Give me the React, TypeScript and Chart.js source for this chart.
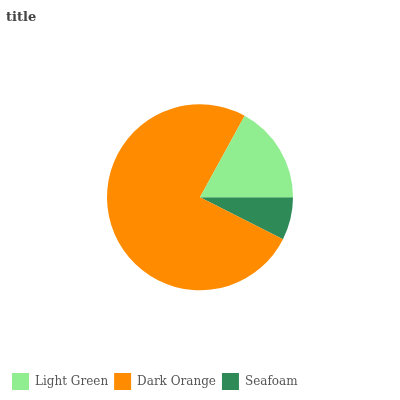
import React, { useEffect, useRef } from "react";
import { Chart, registerables } from "chart.js";

Chart.register(...registerables);

const legendOrder = ["Light Green", "Dark Orange", "Seafoam"];
const categories = ["Seafoam", "Dark Orange", "Light Green"];
const values = [7, 71, 16];
const colors = ["#2E8B57", "#FF8C00", "#90EE90"];

export default function App() {
  const ref = useRef<HTMLCanvasElement | null>(null);
  useEffect(() => {
    if (!ref.current) return;
    const chart = new Chart(ref.current, {
      type: "pie",
      data: {
        labels: categories,
        datasets: [
          {
            data: values,
            backgroundColor: colors,
            borderWidth: 0,
            radius: 93,
          },
        ],
      },
      options: {
        animation: false,
        responsive: false,
        rotation: 90,
        layout: { padding: { left: 6, right: 6, top: 0, bottom: 0 } },
        plugins: {
          title: {
            display: true,
            text: "title",
            align: "start",
            color: "#444444",
            font: { family: "DejaVu Serif", size: 13, weight: "bold" },
            padding: { top: 10, bottom: 2 },
          },
          legend: {
            position: "bottom",
            align: "start",
            labels: {
              boxWidth: 17,
              boxHeight: 17,
              padding: 6,
              color: "#555555",
              font: { family: "DejaVu Serif", size: 12 },
              sort: (a: any, b: any) =>
                legendOrder.indexOf(a.text) - legendOrder.indexOf(b.text),
            },
          },
          tooltip: { enabled: false },
        },
      },
    });
    return () => chart.destroy();
  }, []);
  return (
    <div style={{ position: "absolute", left: 0, top: 0, width: 400, height: 400 }}>
      <canvas ref={ref} width={400} height={400} />
    </div>
  );
}
